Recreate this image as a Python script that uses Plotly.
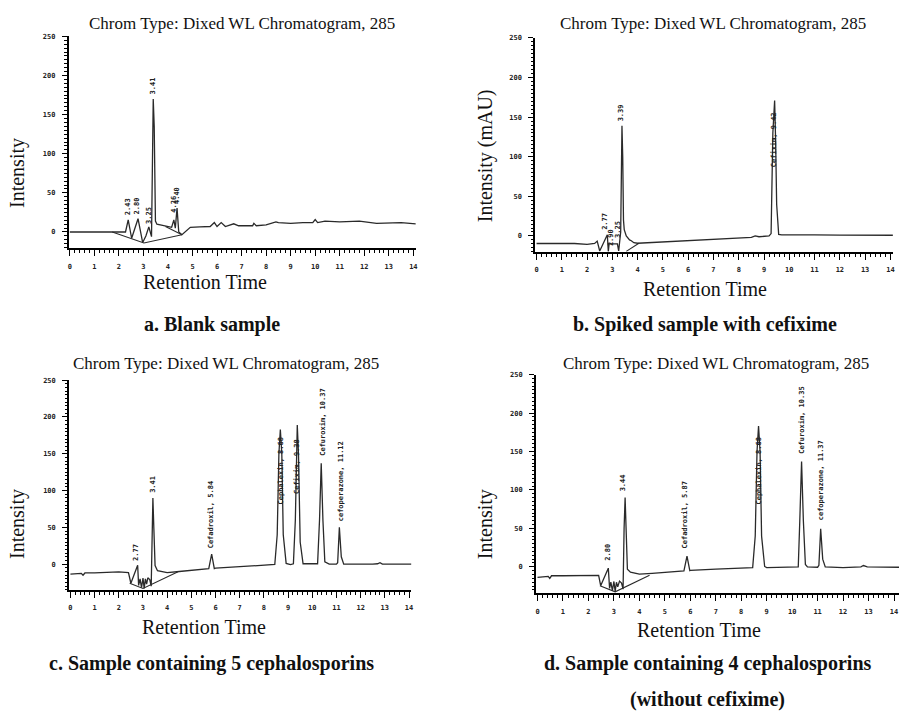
#Import libraries
from plotly import graph_objects as go

#Chromatogram data (retention time, intensity)
a_time = [0, 1.0, 2.0, 2.27, 2.38, 2.52, 2.78, 2.97, 3.10, 3.22, 3.33, 3.40, 3.44, 3.46, 3.49, 3.55,
          3.70, 3.80, 3.95, 4.15, 4.24, 4.30, 4.37, 4.44, 4.57, 4.75, 4.91, 5.3, 5.72, 5.89, 6.00,
          6.17, 6.34, 6.68, 6.88, 7.0, 7.45, 7.5, 7.6, 8.0, 8.4, 8.5, 9.0, 9.5, 9.9, 10.0, 10.1,
          10.4, 11.0, 11.8, 12.2, 12.5, 13.5, 14.1]
a_int = [0, 0, 0, 0, 15.5, -8, 17, -13.5, -5, 6.5, -6, 170, 135, 40, 14, 10,
         9, 7.5, 7, 6, 15.5, 5, 30.5, 0, -3.5, 2, 6, 6.5, 7, 12, 7,
         12, 7, 10.5, 8, 8, 8, 11, 8, 9, 13, 12, 11, 12, 12, 16, 12,
         14, 13, 14, 12, 11, 12, 10.5]
a_base_time = [1.73, 3.02, 4.57]
a_base_int = [0, -14, -3.5]
a_base2_time = [3.9, 4.57]
a_base2_int = [7, -3.5]

b_time = [0, 0.5, 1.0, 1.5, 2.0, 2.3, 2.40, 2.50, 2.80, 2.84, 2.87, 3.0, 3.20, 3.25, 3.29, 3.33,
          3.38, 3.41, 3.44, 3.47, 3.55, 3.62, 3.68, 3.75, 3.85, 4.0, 5.0, 6.0, 7.0, 8.0, 8.5,
          8.65, 8.8, 9.2, 9.28, 9.35, 9.42, 9.46, 9.50, 9.58, 9.7, 10.0, 10.6, 10.65, 10.7, 11.0,
          12.0, 13.0, 14.1]
b_int = [-9.5, -9.5, -10, -9.5, -10.5, -9.5, -6.5, -19, 1.5, -19.5, -10, -10, -10, -19, -8, 5,
         139, 100, 20, 8, 0, -3, -5, -6, -8.5, -9.2, -7.7, -5.6, -4.3, -3, -1.7,
         0, -1, 0, 3, 130, 171, 120, 40, 2, 1.3, 1.3, 1.3, 2, 1.3, 1.3,
         1, 0.9, 0.9]
b_base_time = [3.55, 4.05]
b_base_int = [-19.5, -9.2]

c_time = [0, 0.3, 0.45, 0.52, 0.6, 1.0, 2.0, 2.40, 2.50, 2.78, 2.82, 2.88, 2.94, 3.00, 3.05, 3.10,
          3.15, 3.20, 3.28, 3.34, 3.38, 3.41, 3.45, 3.50, 3.60, 3.80, 4.0, 4.5, 5.0, 5.5, 5.72,
          5.84, 5.95, 6.0, 7.0, 8.0, 8.45, 8.55, 8.62, 8.68, 8.74, 8.80, 8.92, 9.1, 9.22, 9.30,
          9.35, 9.38, 9.43, 9.50, 9.62, 10.0, 10.22, 10.30, 10.37, 10.44, 10.52, 10.7, 11.0, 11.05,
          11.12, 11.20, 11.30, 11.5, 12.0, 12.5, 12.7, 12.8, 12.9, 13.2, 14.1]
c_int = [-13.5, -12.5, -12.5, -15, -12, -12, -10.5, -11.5, -26, -1.5, -29, -20, -32, -19, -33, -20,
         -27, -18.5, -21, -30, 50, 90, 48, -2, -9, -10.5, -11.5, -10, -8.5, -7, -6,
         13.5, -6, -5.5, -3.5, -2, -0.5, 40, 150, 183, 150, 40, 1, -0.5, 0.5, 60,
         160, 189, 150, 30, 0.5, 0, 0.5, 60, 137, 60, 3, 0, 0, 2,
         50, 10, 0, 0, -0.5, 0, 0.5, 2, 0, 0, 0]
c_base_time = [2.45, 3.0, 4.45]
c_base_int = [-26, -33, -10.4]

d_time = [0, 0.3, 0.42, 0.48, 0.55, 1.0, 2.0, 2.40, 2.48, 2.78, 2.83, 2.88, 2.94, 3.00, 3.05, 3.10,
          3.15, 3.22, 3.30, 3.36, 3.40, 3.44, 3.48, 3.53, 3.65, 3.8, 4.0, 4.5, 5.0, 5.5, 5.75,
          5.87, 5.98, 6.0, 7.0, 8.0, 8.45, 8.55, 8.62, 8.68, 8.74, 8.80, 8.92, 9.0, 10.0, 10.24,
          10.30, 10.37, 10.44, 10.52, 10.6, 11.0, 11.05, 11.12, 11.20, 11.30, 12.0, 12.7, 12.8, 12.95,
          14.2]
d_int = [-13.8, -12.5, -12.5, -15, -11.6, -11.6, -11, -11, -24.5, -1.7, -28, -20, -31, -19, -32, -20,
         -26, -18.5, -21, -29, 50, 90, 48, -3, -7, -8.5, -9.5, -8.5, -7.3, -6, -5.2,
         14, -5, -4.7, -3, -2.2, -1, 40, 150, 183, 150, 40, 0.5, -1, -0.4, 0,
         60, 137, 60, 3, 0, -0.5, 2, 49.6, 10, 0, -1, 0, 1.7, 0,
         -0.5]
d_base_time = [2.45, 3.05, 4.4]
d_base_int = [-24.5, -32.5, -10.8]

#Peak labels
a_lab = ["2.43", "2.80", "3.25", "3.41", "4.26", "4.40"]
a_lab_time = [2.38, 2.75, 3.22, 3.38, 4.21, 4.37]
a_lab_int = [32, 33, 21.6, 187, 35, 46]

b_lab = ["2.77", "2.90", "3.25", "3.39", "Cefixim, 9.42"]
b_lab_time = [2.70, 2.93, 3.25, 3.35, 9.40]
b_lab_int = [18.8, -2, 8.4, 155, 121]

c_lab = ["2.77", "3.41", "Cefadroxil, 5.84", "Cephalexin, 8.68", "Cefixim, 9.38",
         "Cefuroxim, 10.37", "cefoperazone, 11.12"]
c_lab_time = [2.69, 3.38, 5.81, 8.71, 9.40, 10.43, 11.17]
c_lab_int = [15.8, 108, 67.6, 126, 133, 193, 112]

d_lab = ["2.80", "3.44", "Cefadroxil, 5.87", "Cephalexin, 8.68", "Cefuroxim, 10.35",
         "cefoperazone, 11.37"]
d_lab_time = [2.77, 3.37, 5.79, 8.69, 10.39, 11.13]
d_lab_int = [18.5, 109, 68, 125, 190, 112.5]

chrom_title = "Chrom Type: Dixed WL Chromatogram, 285"
captions = ["a. Blank sample", "b. Spiked sample with cefixime",
            "c. Sample containing 5 cephalosporins",
            "d. Sample containing 4 cephalosporins", "(without cefixime)"]
y_titles = ["Intensity", "Intensity (mAU)", "Intensity", "Intensity"]

W, H = 901, 713

#Panel geometry in pixels: x-left, x-right, y-bottom, y-top, x range, y range
panels = [
    dict(xd=(67.8, 416.2), yd=(245.8, 32.6), xr=[-0.05, 14.1], yr=[-21, 250]),
    dict(xd=(535.8, 894.9), yd=(249.2, 34.1), xr=[-0.06, 14.1], yr=[-20, 250]),
    dict(xd=(68.2, 411.8), yd=(589.2, 378.3), xr=[-0.06, 14.1], yr=[-35, 250]),
    dict(xd=(536.7, 901.0), yd=(592.7, 372.7), xr=[-0.063, 14.196], yr=[-34.5, 250]),
]

series = [
    (a_time, a_int, [(a_base_time, a_base_int), (a_base2_time, a_base2_int)], a_lab, a_lab_time, a_lab_int),
    (b_time, b_int, [(b_base_time, b_base_int)], b_lab, b_lab_time, b_lab_int),
    (c_time, c_int, [(c_base_time, c_base_int)], c_lab, c_lab_time, c_lab_int),
    (d_time, d_int, [(d_base_time, d_base_int)], d_lab, d_lab_time, d_lab_int),
]

#Text positions (pixels): title centre, x title centre, y title centre
text_pos = [
    dict(title=(241.7, 20), xt=(205, 280), yt=(16, 170)),
    dict(title=(714, 20), xt=(706.7, 287), yt=(485.7, 153)),
    dict(title=(226, 362), xt=(203.7, 627), yt=(16, 523)),
    dict(title=(717.5, 362), xt=(700, 630), yt=(485.7, 523)),
]
cap_pos = [(211.7, 322), (706, 322), (211.7, 663), (709, 663), (709, 699)]

serif = "Liberation Serif"
tickfont = dict(family="DejaVu Sans Mono", size=7, color="#222", weight="bold")
line_col = "#2a2a2a"

fig = go.Figure()
annotations = []
layout = {}

for i, (p, s, tp) in enumerate(zip(panels, series, text_pos), start=1):
    suffix = "" if i == 1 else str(i)
    xa, ya = "x" + suffix, "y" + suffix
    t, inten, bases, labs, lab_t, lab_i = s

    fig.add_trace(go.Scatter(x=t, y=inten, mode="lines", xaxis=xa, yaxis=ya,
                             line=dict(color=line_col, width=1.3), showlegend=False))
    for bt, bi in bases:
        fig.add_trace(go.Scatter(x=bt, y=bi, mode="lines", xaxis=xa, yaxis=ya,
                                 line=dict(color=line_col, width=1.1), showlegend=False))

    layout["xaxis" + suffix] = dict(
        domain=[p["xd"][0] / W, p["xd"][1] / W], range=p["xr"], anchor=ya,
        showgrid=False, zeroline=False, showline=True, linecolor="black", linewidth=1.5,
        ticks="outside", ticklen=6, tickwidth=1.2, tickcolor="black", tick0=0, dtick=1,
        minor=dict(dtick=0.2, ticklen=3, tickcolor="black", ticks="outside", showgrid=False),
        tickfont=tickfont, ticklabelstandoff=4, fixedrange=True)
    layout["yaxis" + suffix] = dict(
        domain=[1 - p["yd"][0] / H, 1 - p["yd"][1] / H], range=p["yr"], anchor=xa,
        showgrid=False, zeroline=False, showline=True, linecolor="black", linewidth=1.5,
        ticks="outside", ticklen=5, tickwidth=1.2, tickcolor="black", tick0=0, dtick=50,
        minor=dict(dtick=5, ticklen=2.5, tickcolor="black", ticks="outside", showgrid=False),
        tickfont=tickfont, ticklabelstandoff=5, fixedrange=True)

    #Peak labels, rotated like the instrument printout
    for txt, lx, ly in zip(labs, lab_t, lab_i):
        annotations.append(dict(x=lx, y=ly, xref=xa, yref=ya, text=txt, showarrow=False,
                                textangle=-90, font=tickfont, xanchor="center", yanchor="middle"))

    annotations.append(dict(x=tp["title"][0] / W, y=1 - tp["title"][1] / H, xref="paper", yref="paper",
                            text=chrom_title, showarrow=False, font=dict(family=serif, size=17, color="#111"),
                            xanchor="center", yanchor="middle"))
    annotations.append(dict(x=tp["xt"][0] / W, y=1 - tp["xt"][1] / H, xref="paper", yref="paper",
                            text="Retention Time", showarrow=False, font=dict(family=serif, size=20, color="#111"),
                            xanchor="center", yanchor="middle"))
    annotations.append(dict(x=tp["yt"][0] / W, y=1 - tp["yt"][1] / H, xref="paper", yref="paper",
                            text=y_titles[i - 1], showarrow=False, textangle=-90,
                            font=dict(family=serif, size=20, color="#111"),
                            xanchor="center", yanchor="middle"))

#Figure captions under each panel
for cap, (cx, cy) in zip(captions, cap_pos):
    annotations.append(dict(x=cx / W, y=1 - cy / H, xref="paper", yref="paper",
                            text="<b>" + cap + "</b>", showarrow=False,
                            font=dict(family=serif, size=20, color="#111"),
                            xanchor="center", yanchor="middle"))

fig.update_layout(**layout)
fig.update_layout(width=W, height=H, margin=dict(l=0, r=0, t=0, b=0),
                  plot_bgcolor="white", paper_bgcolor="white",
                  annotations=annotations, showlegend=False)

#Remove the default page margin so the figure fills the window exactly
fig.write_html("out.html", config={"displayModeBar": False},
               post_script="document.body.style.margin='0';")
